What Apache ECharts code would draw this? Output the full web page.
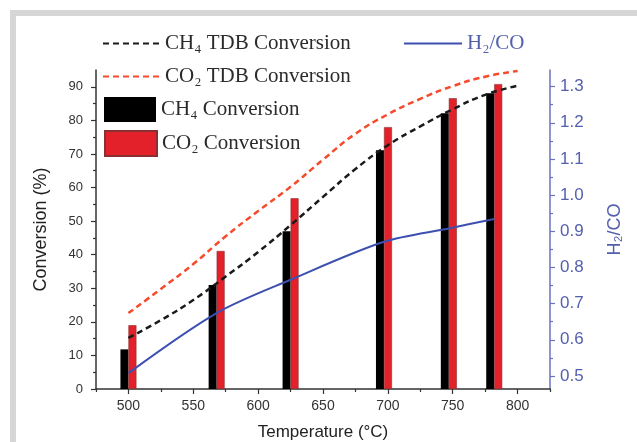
<!DOCTYPE html>
<html>
<head>
<meta charset="utf-8">
<script src="https://cdn.jsdelivr.net/npm/echarts@6/dist/echarts.min.js"></script>
<style>
  html, body { margin: 0; padding: 0; background: #fff; }
  #frame { position: absolute; left: 10px; top: 10px; width: 627px; height: 432px;
           border-left: 6px solid #d6d6d6; border-top: 6px solid #d6d6d6; box-sizing: border-box; }
  #chart { position: absolute; left: 0; top: 0; width: 637px; height: 442px; }
</style>
</head>
<body>
<div id="frame"></div>
<div id="chart"></div>
<script>
// Bars (measured conversion)
const barTemps = [500, 568, 625, 697, 747, 782];
const ch4Conversion = [11.8, 31, 47, 71.1, 82.1, 88.1];
const co2Conversion = [19, 41.1, 56.8, 78, 86.6, 90.8];

// Thermodynamic (TDB) curves
const tdbTemps = [500, 525, 550, 575, 600, 625, 650, 675, 700, 725, 750, 775, 800];
const ch4Tdb = [15.2, 20.5, 26.5, 33.5, 40.8, 48.8, 57.2, 65.5, 72.6, 78.2, 83.3, 87.6, 90.3];
const co2Tdb = [22.6, 29.8, 37.2, 45.5, 53, 60.2, 68.3, 76, 81.8, 86.4, 90.2, 93.0, 94.7];

// H2/CO ratio
const ratioTemps = [500, 568, 625, 697, 747, 782];
const h2co = [0.508, 0.674, 0.766, 0.871, 0.908, 0.934];

// Tick values
const xMajorTicks = [500, 550, 600, 650, 700, 750, 800];
const xMinorTicks = [475, 525, 575, 625, 675, 725, 775, 825];
const yLeftMajor = [0, 10, 20, 30, 40, 50, 60, 70, 80, 90];
const yLeftMinor = [5, 15, 25, 35, 45, 55, 65, 75, 85];
const yRightMajor = [0.5, 0.6, 0.7, 0.8, 0.9, 1.0, 1.1, 1.2, 1.3];
const yRightMinor = [0.55, 0.65, 0.75, 0.85, 0.95, 1.05, 1.15, 1.25];

const zip = (xs, ys) => xs.map((x, i) => [x, ys[i]]);

const serif = '"Liberation Serif", "DejaVu Serif", serif';
const sans = '"Liberation Sans", Arial, sans-serif';
const blue = '#3d50b0';
const axisBlue = '#6a72bd';
const labelBlue = '#5560ad';

const chart = echarts.init(document.getElementById('chart'), null, { renderer: 'canvas' });

function legendRow(name, left, top, w, h, color, extra) {
  return Object.assign({
    data: [name], left: left, top: top, padding: 0, itemWidth: w, itemHeight: h,
    selectedMode: false,
    textStyle: { fontFamily: serif, fontSize: 21, color: color }
  }, extra || {});
}
const lineLegend = { itemStyle: { opacity: 0 } };

chart.setOption({
  animation: false,
  legend: [
    legendRow('CH₄ TDB Conversion', 102, 33, 57, 14, '#2b2b2b', lineLegend),
    legendRow('H₂/CO', 403, 33, 58, 14, labelBlue, lineLegend),
    legendRow('CO₂ TDB Conversion', 102, 66, 57, 14, '#2b2b2b', lineLegend),
    legendRow('CH₄ Conversion', 104, 97, 52, 25, '#2b2b2b', { icon: 'rect' }),
    legendRow('CO₂ Conversion', 104, 130, 52, 25, '#2b2b2b', { icon: 'rect' })
  ],
  grid: { left: 96, right: 87, top: 70, bottom: 53, outerBoundsMode: 'none' },
  xAxis: [
    {
      type: 'value', min: 475, max: 825, position: 'bottom',
      name: 'Temperature (°C)', nameLocation: 'middle', nameGap: 35,
      nameTextStyle: { fontFamily: sans, fontSize: 17, color: '#222' },
      axisLine: { show: true, lineStyle: { color: '#333', width: 1.5 } },
      axisTick: { show: true, length: 5, customValues: xMajorTicks, lineStyle: { color: '#333', width: 1.2 } },
      axisLabel: { customValues: xMajorTicks, margin: 10, fontFamily: sans, fontSize: 14, color: '#333' },
      splitLine: { show: false }
    },
    {
      type: 'value', min: 475, max: 825, position: 'bottom',
      axisLine: { show: false },
      axisTick: { show: true, length: 3, customValues: xMinorTicks, lineStyle: { color: '#333', width: 1.2 } },
      axisLabel: { show: false },
      splitLine: { show: false }
    }
  ],
  yAxis: [
    {
      type: 'value', min: 0, max: 95, position: 'left',
      name: 'Conversion (%)', nameLocation: 'middle', nameGap: 46, nameRotate: 90,
      nameTextStyle: { fontFamily: sans, fontSize: 18, color: '#222' },
      axisLine: { show: true, lineStyle: { color: '#333', width: 1.5 } },
      axisTick: { show: true, length: 5, customValues: yLeftMajor, lineStyle: { color: '#333', width: 1.2 } },
      axisLabel: { customValues: yLeftMajor, margin: 13, fontFamily: sans, fontSize: 13, color: '#333' },
      splitLine: { show: false }
    },
    {
      type: 'value', min: 0.464, max: 1.346, position: 'right',
      name: 'H₂/CO', nameLocation: 'middle', nameGap: 56, nameRotate: 90,
      nameTextStyle: { fontFamily: sans, fontSize: 18, color: labelBlue },
      axisLine: { show: true, lineStyle: { color: axisBlue, width: 1.5 } },
      axisTick: { show: true, length: 5, customValues: yRightMajor, lineStyle: { color: axisBlue, width: 1.2 } },
      axisLabel: { customValues: yRightMajor, margin: 10, fontFamily: sans, fontSize: 17, color: labelBlue,
                   formatter: v => v.toFixed(1) },
      splitLine: { show: false }
    },
    {
      type: 'value', min: 0, max: 95, position: 'left',
      axisLine: { show: false },
      axisTick: { show: true, length: 3, customValues: yLeftMinor, lineStyle: { color: '#333', width: 1.2 } },
      axisLabel: { show: false }, splitLine: { show: false }
    },
    {
      type: 'value', min: 0.464, max: 1.346, position: 'right',
      axisLine: { show: false },
      axisTick: { show: true, length: 3, customValues: yRightMinor, lineStyle: { color: axisBlue, width: 1.2 } },
      axisLabel: { show: false }, splitLine: { show: false }
    }
  ],
  series: [
    {
      name: 'CH₄ Conversion', type: 'bar', xAxisIndex: 0, yAxisIndex: 0,
      data: zip(barTemps, ch4Conversion), barWidth: 8, barGap: '0%',
      itemStyle: { color: '#000' }
    },
    {
      name: 'CO₂ Conversion', type: 'bar', xAxisIndex: 0, yAxisIndex: 0,
      data: zip(barTemps, co2Conversion), barWidth: 8, barGap: '0%',
      itemStyle: { color: '#e3212a', borderColor: '#8a3030', borderWidth: 0.6 }
    },
    {
      name: 'CH₄ TDB Conversion', type: 'line', xAxisIndex: 0, yAxisIndex: 0,
      data: zip(tdbTemps, ch4Tdb), smooth: true, symbol: 'none', z: 5,
      lineStyle: { color: '#1a1a1a', width: 2.5, type: [6, 4] },
      itemStyle: { color: '#1a1a1a' }
    },
    {
      name: 'CO₂ TDB Conversion', type: 'line', xAxisIndex: 0, yAxisIndex: 0,
      data: zip(tdbTemps, co2Tdb), smooth: true, symbol: 'none', z: 5,
      lineStyle: { color: '#f54a2c', width: 2.5, type: [6, 4] },
      itemStyle: { color: '#f54a2c' }
    },
    {
      name: 'H₂/CO', type: 'line', xAxisIndex: 0, yAxisIndex: 1,
      data: zip(ratioTemps, h2co), smooth: 0.3, symbol: 'none', z: 5,
      lineStyle: { color: blue, width: 2 },
      itemStyle: { color: blue }
    }
  ]
});
</script>
</body>
</html>
